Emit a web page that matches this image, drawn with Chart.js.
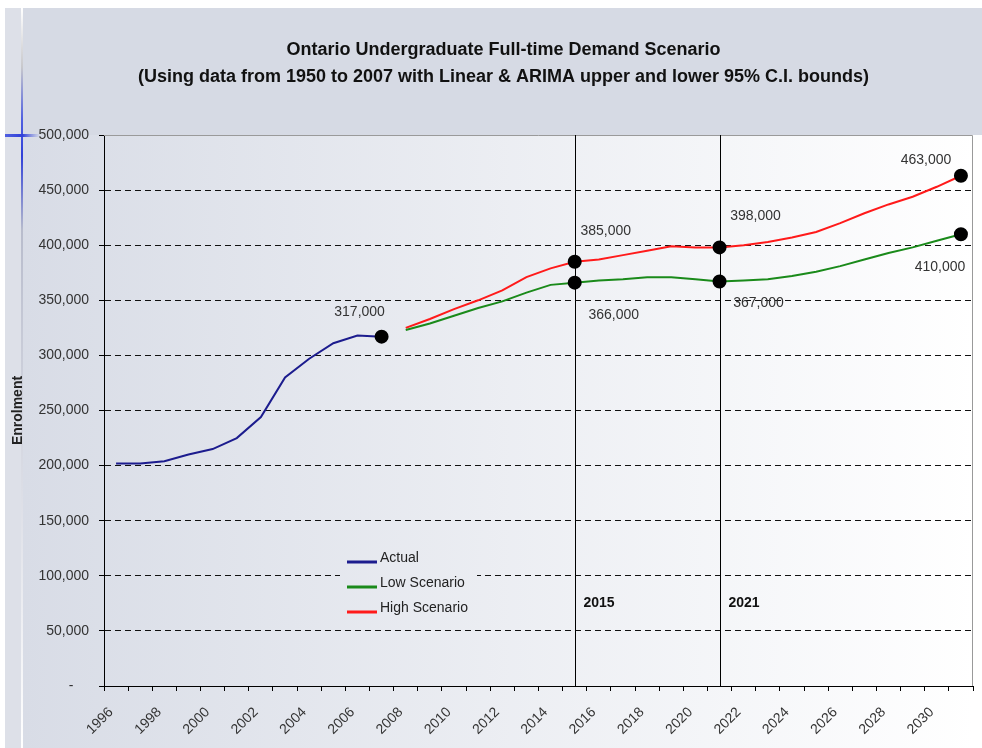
<!DOCTYPE html>
<html>
<head>
<meta charset="utf-8">
<title>Ontario Undergraduate Full-time Demand Scenario</title>
<script src="https://cdn.jsdelivr.net/npm/chart.js@4.4.0/dist/chart.umd.min.js"></script>
<style>
  html, body { margin: 0; padding: 0; background: #fff; }
  canvas { display: block; }
</style>
</head>
<body>
<canvas id="demandChart" width="982" height="748"></canvas>
<script>
// Categories and series
const years = ['1996', '1997', '1998', '1999', '2000', '2001', '2002', '2003', '2004', '2005',
               '2006', '2007', '2008', '2009', '2010', '2011', '2012', '2013', '2014', '2015',
               '2016', '2017', '2018', '2019', '2020', '2021', '2022', '2023', '2024', '2025',
               '2026', '2027', '2028', '2029', '2030', '2031'];

const actual = [202000, 202000, 204000, 210000, 215000, 225000, 244000, 280000, 297000, 311000,
                318000, 317000, null, null, null, null, null, null, null, null,
                null, null, null, null, null, null, null, null, null, null,
                null, null, null, null, null, null];

const lowScenario = [null, null, null, null, null, null, null, null, null, null,
                     null, null, 323000, 329000, 336000, 343000, 349000, 357000, 364000, 366000,
                     368000, 369000, 371000, 371000, 369000, 367000, 368000, 369000, 372000, 376000,
                     381000, 387000, 393000, 398000, 404000, 410000];

const highScenario = [null, null, null, null, null, null, null, null, null, null,
                      null, null, 325000, 333000, 342000, 350000, 359000, 371000, 379000, 385000,
                      387000, 391000, 395000, 399000, 398000, 398000, 400000, 403000, 407000, 412000,
                      420000, 429000, 437000, 444000, 453000, 463000];

const markedYears = ['2007', '2015', '2021', '2031'];
const milestoneYears = ['2015', '2021'];

Chart.defaults.font.family = '"Liberation Sans", Arial, sans-serif';

// Slide-style background: title band, gradient body and the little blue rule at the left
const backdrop = {
    id: 'backdrop',
    afterLayout(chart) {
        // the slide title sits a little right of the canvas centre
        chart.titleBlock.left += 28;
    },
    beforeDraw(chart) {
        const { ctx, width, height, chartArea } = chart;
        ctx.save();
        ctx.fillStyle = '#ffffff';
        ctx.fillRect(0, 0, width, height);
        ctx.fillStyle = '#dde0e8';
        ctx.fillRect(5, 8, 16, height - 8);

        ctx.fillStyle = '#d6dae4';
        ctx.fillRect(23, 8, width - 23, chartArea.top - 8);

        const g = ctx.createLinearGradient(23, 0, chartArea.right, 0);
        g.addColorStop(0, '#d8dce6');
        g.addColorStop(1, '#ffffff');
        ctx.fillStyle = g;
        ctx.fillRect(23, chartArea.top, chartArea.right - 23, height - chartArea.top);

        const v = ctx.createLinearGradient(0, 8, 0, height);
        v.addColorStop(0, '#ffffff');
        v.addColorStop(0.08, '#c8c8cc');
        v.addColorStop(0.15, '#5060e0');
        v.addColorStop(0.2, '#3040d8');
        v.addColorStop(0.3, '#b8bccc');
        v.addColorStop(1, '#ffffff');
        ctx.fillStyle = v;
        ctx.fillRect(21, 8, 2, height - 8);

        const h = ctx.createLinearGradient(5, 0, 40, 0);
        h.addColorStop(0, '#5060e0');
        h.addColorStop(0.5, '#3040d8');
        h.addColorStop(1, 'rgba(80,96,224,0)');
        ctx.fillStyle = h;
        ctx.fillRect(5, chartArea.top - 1, 35, 3);
        ctx.restore();
    },
    beforeDatasetsDraw(chart) {
        const { ctx, chartArea, scales } = chart;
        ctx.save();
        // plot border on top and right
        ctx.strokeStyle = '#9a9a9a';
        ctx.lineWidth = 1;
        ctx.beginPath();
        ctx.moveTo(chartArea.left, chartArea.top + 0.5);
        ctx.lineTo(chartArea.right - 0.5, chartArea.top + 0.5);
        ctx.lineTo(chartArea.right - 0.5, chartArea.bottom);
        ctx.stroke();

        // vertical milestone lines with their year captions
        ctx.strokeStyle = '#000';
        ctx.fillStyle = '#111';
        ctx.font = 'bold 14px "Liberation Sans", Arial, sans-serif';
        ctx.textBaseline = 'middle';
        ctx.textAlign = 'left';
        milestoneYears.forEach(yr => {
            const x = Math.round(scales.x.getPixelForValue(years.indexOf(yr))) + 0.5;
            ctx.beginPath();
            ctx.moveTo(x, chartArea.top);
            ctx.lineTo(x, chartArea.bottom);
            ctx.stroke();
            ctx.fillText(yr, x + 8, chartArea.bottom - 83);
        });
        ctx.restore();
    }
};

// Value labels next to the marked points, plus the in-plot legend
const labelOffsets = {
    'Actual|2007': [-22, -25],
    'High Scenario|2015': [31, -31],
    'Low Scenario|2015': [39, 32],
    'High Scenario|2021': [36, -31],
    'Low Scenario|2021': [39, 22],
    'High Scenario|2031': [-35, -16],
    'Low Scenario|2031': [-21, 33]
};

const annotations = {
    id: 'annotations',
    afterDatasetsDraw(chart) {
        const { ctx, chartArea } = chart;
        ctx.save();
        ctx.font = '14px "Liberation Sans", Arial, sans-serif';
        ctx.fillStyle = '#333';
        ctx.textAlign = 'center';
        ctx.textBaseline = 'middle';
        chart.data.datasets.forEach((ds, di) => {
            const meta = chart.getDatasetMeta(di);
            markedYears.forEach(yr => {
                const idx = years.indexOf(yr);
                const off = labelOffsets[ds.label + '|' + yr];
                if (!off || ds.data[idx] == null) return;
                const pt = meta.data[idx];
                ctx.fillText(ds.data[idx].toLocaleString('en-US'), pt.x + off[0], pt.y + off[1]);
            });
        });

        // legend box sits over the gridlines
        const lx = chartArea.left + 236;
        const ly = chartArea.bottom - 138;
        const g = ctx.createLinearGradient(23, 0, chartArea.right, 0);
        g.addColorStop(0, '#d8dce6');
        g.addColorStop(1, '#ffffff');
        ctx.fillStyle = g;
        ctx.fillRect(lx, ly, 137, 76);

        ctx.textAlign = 'left';
        ctx.lineWidth = 3;
        chart.data.datasets.forEach((ds, i) => {
            const y = ly + 14 + i * 25;
            ctx.strokeStyle = ds.borderColor;
            ctx.beginPath();
            ctx.moveTo(lx + 7, y);
            ctx.lineTo(lx + 37, y);
            ctx.stroke();
            ctx.fillStyle = '#222';
            ctx.fillText(ds.label, lx + 40, y - 4);
        });
        ctx.restore();
    }
};

const pointSize = ctx => (markedYears.includes(years[ctx.dataIndex]) && ctx.raw != null) ? 6 : 0;

new Chart(document.getElementById('demandChart'), {
    type: 'line',
    data: {
        labels: years,
        datasets: [
            {
                label: 'Actual',
                data: actual,
                borderColor: '#1c1c8e',
                borderWidth: 2,
                pointRadius: pointSize,
                pointHoverRadius: pointSize,
                pointBackgroundColor: '#000',
                pointBorderColor: '#000',
                tension: 0
            },
            {
                label: 'Low Scenario',
                data: lowScenario,
                borderColor: '#1a8a1a',
                borderWidth: 2,
                pointRadius: pointSize,
                pointHoverRadius: pointSize,
                pointBackgroundColor: '#000',
                pointBorderColor: '#000',
                tension: 0
            },
            {
                label: 'High Scenario',
                data: highScenario,
                borderColor: '#ff1a1a',
                borderWidth: 2,
                pointRadius: pointSize,
                pointHoverRadius: pointSize,
                pointBackgroundColor: '#000',
                pointBorderColor: '#000',
                tension: 0
            }
        ]
    },
    options: {
        responsive: false,
        animation: false,
        layout: { padding: { left: 6, right: 9, top: 0, bottom: 0 } },
        plugins: {
            legend: { display: false },
            tooltip: { enabled: false },
            title: {
                display: true,
                text: ['Ontario Undergraduate Full-time Demand Scenario',
                       '(Using data from 1950 to 2007 with Linear & ARIMA upper and lower 95% C.I. bounds)'],
                color: '#111',
                font: { size: 18, weight: 'bold', lineHeight: 1.5 },
                padding: { top: 37, bottom: 44 }
            }
        },
        scales: {
            x: {
                offset: true,
                grid: { offset: true, drawOnChartArea: false, tickLength: 5, tickColor: '#000' },
                border: { color: '#000' },
                ticks: {
                    autoSkip: false,
                    maxRotation: 45,
                    minRotation: 45,
                    padding: 13,
                    labelOffset: -5,
                    color: '#333',
                    font: { size: 14 },
                    callback(value, index) {
                        return index % 2 === 0 ? this.getLabelForValue(value) : '';
                    }
                },
                afterFit(scale) {
                    scale.height = 62;
                    scale.paddingLeft = 0;
                    scale.paddingRight = 0;
                }
            },
            y: {
                min: 0,
                max: 500000,
                ticks: {
                    stepSize: 50000,
                    padding: 10,
                    color: '#333',
                    font: { size: 14 },
                    callback: v => v === 0 ? '-    ' : v.toLocaleString('en-US')
                },
                grid: {
                    color: ctx => (ctx.tick && (ctx.tick.value === 0 || ctx.tick.value === 500000)) ? 'rgba(0,0,0,0)' : '#111',
                    tickLength: 5,
                    tickColor: '#000'
                },
                border: { color: '#000', dash: [6, 4] },
                title: {
                    display: true,
                    text: 'Enrolment',
                    color: '#222',
                    font: { size: 14, weight: 'bold' },
                    padding: { top: 4, bottom: 0 }
                },
                afterFit(scale) { scale.width = 98; }
            }
        }
    },
    plugins: [backdrop, annotations]
});
</script>
</body>
</html>
